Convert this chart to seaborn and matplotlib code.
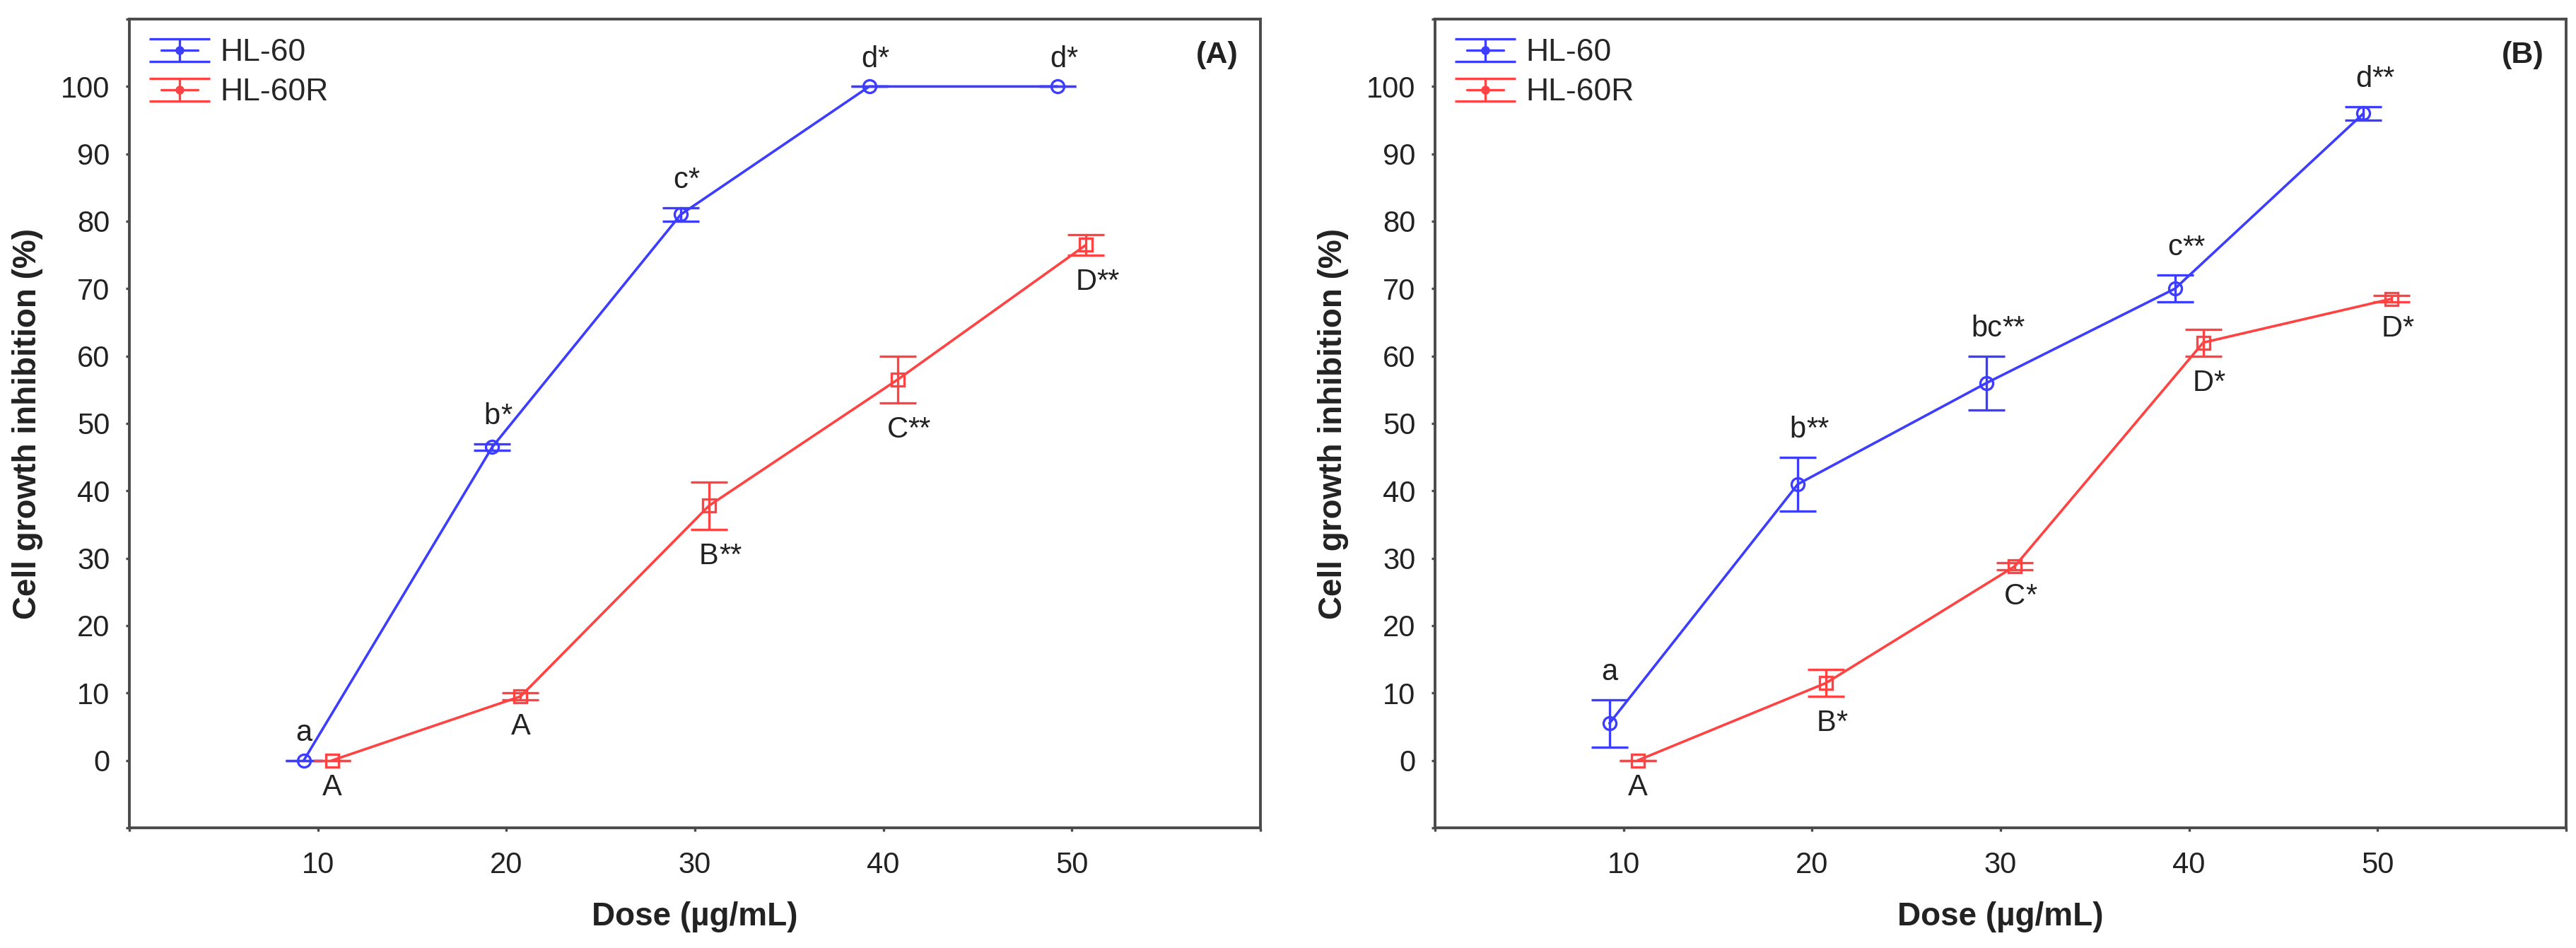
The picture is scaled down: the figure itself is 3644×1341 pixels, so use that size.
import numpy as np
import pandas as pd
import matplotlib
matplotlib.use('Agg')
import matplotlib.pyplot as plt
import seaborn as sns
from matplotlib.container import ErrorbarContainer
from matplotlib.legend_handler import HandlerErrorbar

# data
doses = [10, 20, 30, 40, 50]
series_names = ['HL-60', 'HL-60R']

# panel (A)
a_hl60 = [0, 46.5, 81, 100, 100]
a_hl60_err = [0, 0.5, 1, 0, 0]
a_hl60r = [0, 9.5, 37.8, 56.5, 76.5]
a_hl60r_err = [0, 0.5, 3.5, 3.5, 1.5]
a_hl60_lbl = ['a', 'b*', 'c*', 'd*', 'd*']
a_hl60r_lbl = ['A', 'A', 'B**', 'C**', 'D**']

# panel (B)
b_hl60 = [5.5, 41, 56, 70, 96]
b_hl60_err = [3.5, 4, 4, 2, 1]
b_hl60r = [0, 11.5, 28.8, 62, 68.5]
b_hl60r_err = [0, 2, 0.5, 2, 0.5]
b_hl60_lbl = ['a', 'b**', 'bc**', 'c**', 'd**']
b_hl60r_lbl = ['A', 'B*', 'C*', 'D*', 'D*']

colors = {'HL-60': '#3d3dff', 'HL-60R': '#ff4242'}
markers = {'HL-60': 'o', 'HL-60R': 's'}
dodge = {'HL-60': -0.75, 'HL-60R': 0.75}

sns.set_style('ticks')
plt.rcParams['font.family'] = ['Liberation Sans', 'DejaVu Sans']

fig = plt.figure(figsize=(18.22, 6.705), dpi=200)
W, H = 3644, 1341
axA = fig.add_axes([183 / W, 170 / H, 1600 / W, 1144 / H])
axB = fig.add_axes([2030 / W, 170 / H, 1600 / W, 1144 / H])

TXT = '#222222'
EDGE = '#4a4a4a'


def add_label(ax, text, x, y, above):
    main = text.rstrip('*')
    stars = text[len(main):]
    if above:
        t = ax.annotate(main, xy=(x, y), xytext=(0, 10), textcoords='offset points',
                        ha='center', va='baseline', fontsize=15, color=TXT)
    else:
        t = ax.annotate(main, xy=(x, y), xytext=(0, -6.5), textcoords='offset points',
                        ha='center', va='top', fontsize=15, color=TXT)
    if stars:
        ax.annotate(stars, xy=(1, 0), xycoords=t, ha='left', va='bottom',
                    fontsize=15, color=TXT)


def draw_panel(ax, hl60, hl60_err, hl60r, hl60r_err, lbl1, lbl2, tag):
    df = pd.DataFrame({
        'dose': doses * 2,
        'value': hl60 + hl60r,
        'err': hl60_err + hl60r_err,
        'label': lbl1 + lbl2,
        'series': ['HL-60'] * len(doses) + ['HL-60R'] * len(doses),
    })
    df['pos'] = df['dose'] + df['series'].map(dodge)

    sns.lineplot(data=df, x='pos', y='value', hue='series', palette=colors,
                 linewidth=1.3, errorbar=None, sort=False, legend=False, ax=ax)

    handles = []
    for name in series_names:
        sub = df[df['series'] == name]
        c = colors[name]
        ax.errorbar(sub['pos'], sub['value'], yerr=sub['err'], fmt=markers[name],
                    linestyle='none', mfc='none', mec=c, mew=1.2, ms=6.5,
                    ecolor=c, elinewidth=1.2, capsize=9.5, capthick=1.2, zorder=3)
        # legend proxy
        h = ax.errorbar([np.nan], [np.nan], yerr=[np.nan], color=c, marker='o', ms=3.5,
                        lw=1.2, elinewidth=1.2, capsize=15.5, capthick=1.2, label=name)
        handles.append(h)
        for _, r in sub.iterrows():
            if name == 'HL-60':
                add_label(ax, r['label'], r['pos'], r['value'] + r['err'], True)
            else:
                add_label(ax, r['label'], r['pos'], r['value'] - r['err'], False)

    ax.set_xlim(0, 60)
    ax.set_ylim(-10, 110)
    ax.set_xticks(range(0, 61, 10))
    ax.set_xticklabels([''] + [str(d) for d in doses] + [''])
    ax.set_yticks(range(-10, 111, 10))
    ax.set_yticklabels([''] + [str(v) for v in range(0, 101, 10)] + [''])
    ax.tick_params(axis='both', direction='out', length=1.9, width=1.2,
                   labelsize=15, color=EDGE, labelcolor=TXT)
    ax.tick_params(axis='x', pad=10)
    ax.tick_params(axis='y', pad=8)
    for s in ax.spines.values():
        s.set_visible(True)
        s.set_color(EDGE)
        s.set_linewidth(1.4)

    ax.set_xlabel('Dose (µg/mL)', fontsize=16.5, fontweight='bold', labelpad=11, color=TXT)
    ax.set_ylabel('Cell growth inhibition (%)', fontsize=16.5, fontweight='bold',
                  labelpad=9, color=TXT)

    ax.text(0.962, 0.955, tag, transform=ax.transAxes, ha='center', va='center',
            fontsize=15.5, fontweight='bold', color=TXT)

    ax.legend(handles=handles, labels=series_names, loc='upper left',
              bbox_to_anchor=(0.028, 0.976), frameon=False, borderaxespad=0,
              borderpad=0, handlelength=1.17, handletextpad=0.7, labelspacing=0.33,
              fontsize=16,
              handler_map={ErrorbarContainer: HandlerErrorbar(yerr_size=0.36)})


draw_panel(axA, a_hl60, a_hl60_err, a_hl60r, a_hl60r_err, a_hl60_lbl, a_hl60r_lbl, '(A)')
draw_panel(axB, b_hl60, b_hl60_err, b_hl60r, b_hl60r_err, b_hl60_lbl, b_hl60r_lbl, '(B)')

fig.savefig('out.png', dpi=200)
